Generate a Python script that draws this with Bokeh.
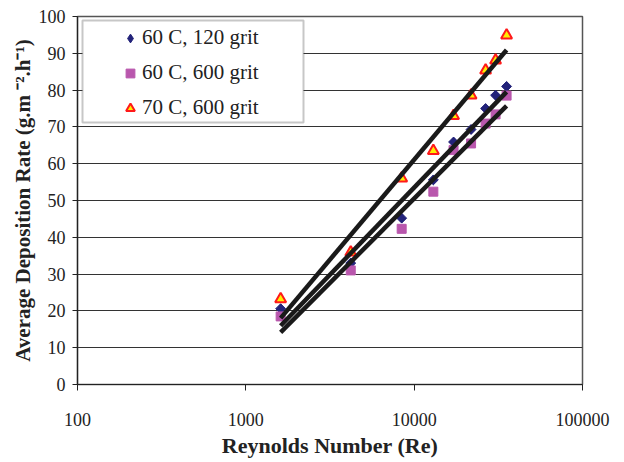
import numpy as np
from bokeh.plotting import figure
from bokeh.models import (FixedTicker, NumeralTickFormatter, Legend, LegendItem,
                          BoxAnnotation, ColumnDataSource)
from bokeh.embed import file_html
from bokeh.resources import INLINE

# ---- data ----
reynolds = [1610, 4200, 8430, 13000, 17140, 21780, 26570, 30450, 35400]
s60_120 = [20.6, 33.0, 45.2, 55.6, 65.9, 69.3, 75.0, 78.6, 81.0]
s60_600 = [18.5, 31.0, 42.3, 52.4, 63.7, 65.5, 70.9, 73.4, 78.5]
s70_600 = [23.2, 35.9, 56.0, 63.5, 73.0, 78.6, 85.4, 88.1, 94.9]
series_names = ["60 C, 120 grit", "60 C, 600 grit", "70 C, 600 grit"]
x_ticks = [100, 1000, 10000, 100000]
y_ticks = [0, 10, 20, 30, 40, 50, 60, 70, 80, 90, 100]

FONT = "Liberation Serif"
C1, C2 = "#23237a", "#b957ad"
C3_FILL, C3_LINE = "#ffee00", "#ff1a1a"

p = figure(width=620, height=460, x_axis_type="log",
           x_range=(100, 100000), y_range=(0, 100),
           output_backend="svg", toolbar_location=None,
           min_border_left=77, min_border_right=38,
           min_border_top=16, min_border_bottom=75)
p.background_fill_color = "white"
p.border_fill_color = "white"
p.outline_line_color = "#555555"
p.outline_line_width = 1.5

# axes
p.xaxis.ticker = FixedTicker(ticks=x_ticks, minor_ticks=[])
p.xaxis.formatter = NumeralTickFormatter(format="0")
p.yaxis.ticker = FixedTicker(ticks=y_ticks, minor_ticks=[])
for ax in (p.xaxis[0], p.yaxis[0]):
    ax.axis_line_color = "#222222"
    ax.axis_line_width = 1.2
    ax.major_tick_line_color = "#222222"
    ax.major_tick_in = 0
    ax.minor_tick_line_color = None
    ax.major_label_text_font = FONT
    ax.major_label_text_font_size = "18px"
    ax.major_label_text_color = "#222222"
    ax.axis_label_text_font = FONT
    ax.axis_label_text_font_style = "bold"
    ax.axis_label_text_color = "#222222"

p.xaxis.major_tick_out = 6
p.xaxis.major_label_standoff = 22
p.xaxis.axis_label = "Reynolds Number (Re)"
p.xaxis.axis_label_standoff = 4
p.xaxis.axis_label_text_font_size = "22px"

p.yaxis.major_tick_out = 5
p.yaxis.major_label_standoff = 7
p.yaxis.axis_label = "Average Deposition Rate (g.m \u207b\u00b2.h\u207b\u00b9)"
p.yaxis.axis_label_standoff = 1
p.yaxis.axis_label_text_font_size = "21px"

p.xgrid.grid_line_color = None
p.ygrid.grid_line_color = "#333333"
p.ygrid.grid_line_width = 1

src = ColumnDataSource(dict(x=reynolds, a=s60_120, b=s60_600, c=s70_600))

# diamond series: a "diamond" marker (used by the legend) covered by a
# 45-degree-rotated square, which gives the squarer diamond of the reference
r1 = p.scatter("x", "a", source=src, marker="diamond", size=9,
               fill_color=C1, line_color=C1)
p.scatter("x", "a", source=src, marker="square", angle=np.pi / 4, size=7,
          fill_color=C1, line_color=C1)
r2 = p.scatter("x", "b", source=src, marker="square", size=9,
               fill_color=C2, line_color=C2)
r3 = p.scatter("x", "c", source=src, marker="triangle", size=11,
               fill_color=C3_FILL, line_color=C3_LINE, line_width=2)

# logarithmic trend lines (least-squares on log10 Re)
lx = np.log10(reynolds)
xs_line = [reynolds[0], reynolds[-1]]
for ys in (s60_120, s60_600, s70_600):
    k, b0 = np.polyfit(lx, ys, 1)
    p.line(xs_line, [k * np.log10(v) + b0 for v in xs_line],
           line_color="#1a1a1a", line_width=4.5)

box = BoxAnnotation(left=5, right=226, top=364, bottom=262,
                    left_units="screen", right_units="screen",
                    top_units="screen", bottom_units="screen",
                    fill_color="white", fill_alpha=1,
                    line_color="#444444", line_width=2, level="annotation")
p.add_layout(box)

legend = Legend(items=[LegendItem(label=series_names[0], renderers=[r1]),
                       LegendItem(label=series_names[1], renderers=[r2]),
                       LegendItem(label=series_names[2], renderers=[r3])],
                location=(42, 264), padding=0, margin=0,
                border_line_color=None, background_fill_alpha=0,
                glyph_width=22, glyph_height=22, label_height=24,
                label_standoff=1, spacing=10,
                label_text_font=FONT, label_text_font_size="21px",
                label_text_color="#222222")
p.add_layout(legend)

open("out.html", "w").write(file_html(p, INLINE))
